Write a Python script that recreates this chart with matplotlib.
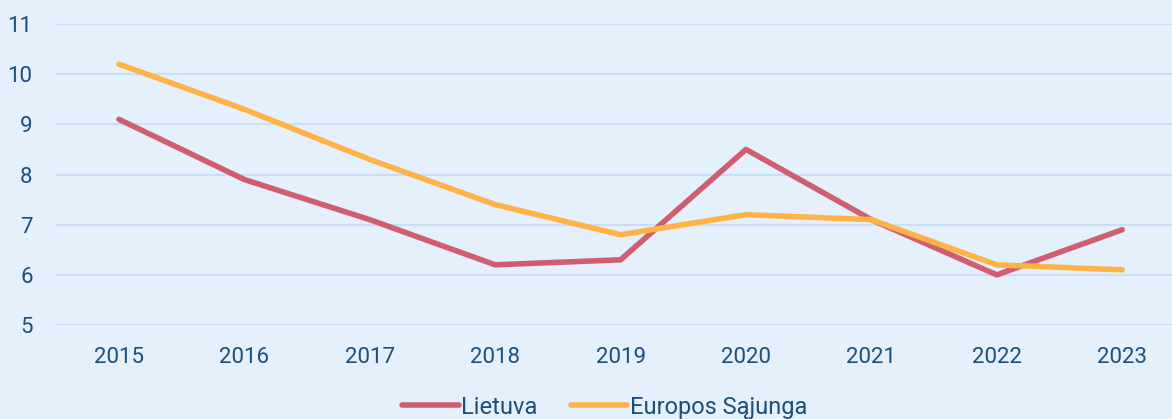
import matplotlib.pyplot as plt

plt.rcParams['font.family'] = ['Roboto', 'DejaVu Sans']

years = ['2015', '2016', '2017', '2018', '2019', '2020', '2021', '2022', '2023']
lietuva = [9.1, 7.9, 7.1, 6.2, 6.3, 8.5, 7.1, 6.0, 6.9]
es = [10.2, 9.3, 8.3, 7.4, 6.8, 7.2, 7.1, 6.2, 6.1]
yticks = [5, 6, 7, 8, 9, 10, 11]

bg = '#E4F0FC'
txt = '#1B4F7E'

fig = plt.figure(figsize=(11.72, 4.19), dpi=100, facecolor=bg)
ax = fig.add_axes([0.048, 0.2243, 0.963, 0.7184], facecolor=bg)

x = range(len(years))
ax.plot(x, lietuva, color='#CE5E70', lw=4.0, label='Lietuva', solid_capstyle='round')
ax.plot(x, es, color='#FFB347', lw=4.0, label='Europos Sąjunga', solid_capstyle='round')

ax.set_xlim(-0.5, 8.5)
ax.set_ylim(5, 11)
ax.set_yticks(yticks)
ax.set_xticks(list(x))
ax.set_xticklabels(years)
ax.grid(axis='y', color='#C8E0F7', lw=1.5)
ax.set_axisbelow(True)
for s in ax.spines.values():
    s.set_visible(False)
ax.tick_params(length=0, labelsize=16, colors=txt)
ax.tick_params(axis='y', pad=17)
ax.tick_params(axis='x', pad=16)

fig.legend(loc='lower center', bbox_to_anchor=(0.516, -0.05), ncol=2, frameon=False,
           fontsize=17, labelcolor=txt, handlelength=2.4, handletextpad=0.1,
           columnspacing=1.4)

fig.savefig('out.png', dpi=100, facecolor=bg)
